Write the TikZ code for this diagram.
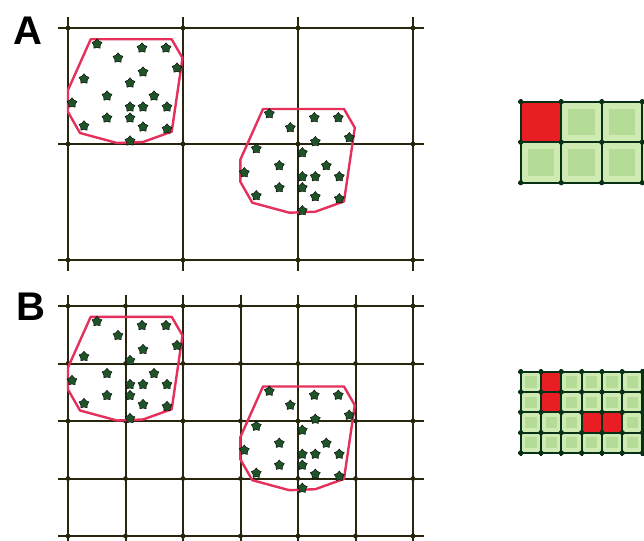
\documentclass[tikz,border=0pt]{standalone}
\usepackage{fontspec}
\setsansfont{Liberation Sans}
\usetikzlibrary{shapes.geometric}

\definecolor{gridink}{RGB}{40,38,12}
\definecolor{hullred}{RGB}{228,48,90}
\definecolor{stargreen}{RGB}{30,84,40}
\definecolor{cellgreen}{RGB}{180,220,150}
\definecolor{cellpale}{RGB}{208,234,180}
\definecolor{cellink}{RGB}{8,48,22}
\definecolor{hotred}{RGB}{232,30,36}

\tikzset{
  gridline/.style={draw=gridink, line width=2pt},
  hull/.style={draw=hullred, line width=2.4pt, line join=round},
  point/.style={star, star points=5, fill=stargreen, draw=black, line width=0.4pt,
    minimum size=10.5pt, inner sep=0pt},
  panellabel/.style={font=\sffamily\bfseries\fontsize{40}{40}\selectfont, inner sep=0pt},
  celline/.style={draw=cellink, line width=2.2pt},
  cluster/.pic={
    \draw[hull] (90.7,39.3) -- (171.7,39.3) -- (182.5,58) -- (171.7,131.7) -- (143,142)
      -- (117,143) -- (80,133) -- (68,112) -- (68,90) -- cycle;
    \foreach \px/\py [count=\i] in {97/44, 142/48, 166/48, 118/58, 177/68, 143/72, 84/79,
        130/83, 107/96, 154/96, 72/103, 130/107, 143/107, 167/107, 107/118, 130/118,
        84/126, 143/127, 167/129, 130/141}
      \node[point] (s\i) at (\px,\py) {};
  }
}

\begin{document}
\begin{tikzpicture}[x=1pt, y=-1pt]
\useasboundingbox (0,0) rectangle (644,540);
\clip (0,0) rectangle (644,540);

% Panel labels
\node[panellabel] (labA) at (28,31) {A};
\node[panellabel] (labB) at (31,307) {B};

% Panel A: coarse grid
\foreach \x in {68,183,298,413}
  \draw[gridline] (\x,17) -- (\x,271);
\foreach \y in {28,144,260}
  \draw[gridline] (58,\y) -- (424,\y);
\foreach \x in {68,183,298,413}
  \foreach \y in {28,144,260}
    \fill[gridink] (\x,\y) circle (2.4);
\pic (a1) at (0,0) {cluster};
\pic (a2) at (172.3,69.7) {cluster};

% Panel B: fine grid
\foreach \x in {68,125.5,183,240.5,298,355.5,413}
  \draw[gridline] (\x,295) -- (\x,546);
\foreach \y in {306,363.5,421,478.5,536}
  \draw[gridline] (58,\y) -- (424,\y);
\foreach \x in {68,125.5,183,240.5,298,355.5,413}
  \foreach \y in {306,363.5,421,478.5,536}
    \fill[gridink] (\x,\y) circle (2.4);
\pic (b1) at (0,277.5) {cluster};
\pic (b2) at (172.3,347.2) {cluster};

% Panel A: occupancy cells
\foreach \c in {0,...,3}
  \foreach \r in {0,1} {
    \fill[cellpale] (520.7+40.5*\c,101.7+40.5*\r) rectangle ++(40.5,40.5);
    \fill[cellgreen] (527.7+40.5*\c,108.7+40.5*\r) rectangle ++(26.5,26.5);
  }
\fill[hotred] (520.7,101.7) rectangle ++(40.5,40.5);
\foreach \c in {0,...,4}
  \draw[celline] (520.7+40.5*\c,99) -- (520.7+40.5*\c,185);
\foreach \r in {0,1,2}
  \draw[celline] (518,101.7+40.5*\r) -- (650,101.7+40.5*\r);
\foreach \c in {0,...,4}
  \foreach \r in {0,1,2}
    \fill[cellink] (520.7+40.5*\c,101.7+40.5*\r) circle (2.6);

% Panel B: occupancy cells
\foreach \c in {0,...,6}
  \foreach \r in {0,...,3} {
    \fill[cellpale] (520.7+20.3*\c,371.7+20.3*\r) rectangle ++(20.3,20.3);
    \fill[cellgreen] (525.2+20.3*\c,376.2+20.3*\r) rectangle ++(11.3,11.3);
  }
\foreach \c/\r in {1/0, 1/1, 3/2, 4/2}
  \fill[hotred] (520.7+20.3*\c,371.7+20.3*\r) rectangle ++(20.3,20.3);
\foreach \c in {0,...,7}
  \draw[celline] (520.7+20.3*\c,369) -- (520.7+20.3*\c,455.5);
\foreach \r in {0,...,4}
  \draw[celline] (518,371.7+20.3*\r) -- (670,371.7+20.3*\r);
\foreach \c in {0,...,7}
  \foreach \r in {0,...,4}
    \fill[cellink] (520.7+20.3*\c,371.7+20.3*\r) circle (2.6);
\end{tikzpicture}
\end{document}
